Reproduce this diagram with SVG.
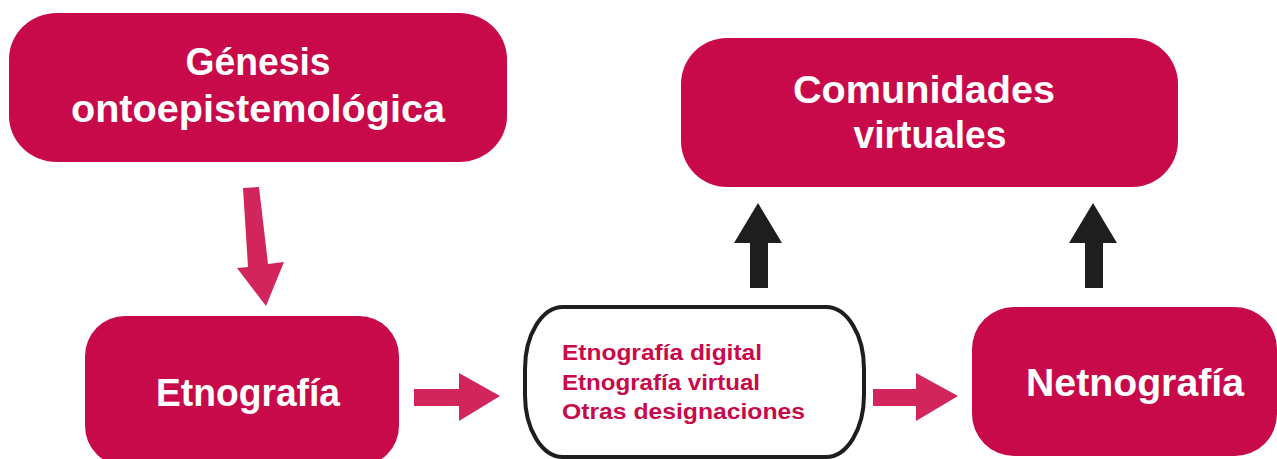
<svg xmlns="http://www.w3.org/2000/svg" width="1277" height="459" viewBox="0 0 1277 459">
<style>
.box{fill:#C8094A}
.big{font-family:"Liberation Sans",Arial,sans-serif;font-weight:bold;font-size:38px;fill:#FFFFFF;text-anchor:middle}
.small{font-family:"Liberation Sans",Arial,sans-serif;font-weight:bold;font-size:22px;fill:#C8094A}
.pink{fill:#D2255C}
.dark{fill:#1E1E1E}
</style>
<rect width="1277" height="459" fill="#FFFFFF"/>
<g id="genesis">
<rect class="box" x="9" y="13" width="498" height="149" rx="48" ry="46"/>
<text class="big" x="258" y="75" textLength="145" lengthAdjust="spacingAndGlyphs">Génesis</text>
<text class="big" x="258" y="122" textLength="374" lengthAdjust="spacingAndGlyphs">ontoepistemológica</text>
</g>
<g id="etnografia">
<rect class="box" x="85" y="316" width="314" height="150" rx="40" ry="40"/>
<text class="big" x="248" y="406" textLength="184" lengthAdjust="spacingAndGlyphs">Etnografía</text>
</g>
<g id="designaciones">
<rect x="525" y="307" width="339" height="150" rx="38" ry="62" fill="#FFFFFF" stroke="#1E1E1E" stroke-width="4"/>
<text class="small" x="562" y="360" textLength="200" lengthAdjust="spacingAndGlyphs">Etnografía digital</text>
<text class="small" x="562" y="390" textLength="198" lengthAdjust="spacingAndGlyphs">Etnografía virtual</text>
<text class="small" x="562" y="419" textLength="243" lengthAdjust="spacingAndGlyphs">Otras designaciones</text>
</g>
<g id="comunidades">
<rect class="box" x="681" y="38" width="497" height="149" rx="46" ry="46"/>
<text class="big" x="924" y="103" textLength="262" lengthAdjust="spacingAndGlyphs">Comunidades</text>
<text class="big" x="930" y="148" textLength="153" lengthAdjust="spacingAndGlyphs">virtuales</text>
</g>
<g id="netnografia">
<rect class="box" x="972" y="307" width="305" height="149" rx="42" ry="42"/>
<text class="big" x="1135" y="396" textLength="218" lengthAdjust="spacingAndGlyphs">Netnografía</text>
</g>
<g id="connectors">
<polygon class="pink" points="243,188 259,187 268,264 284,262 266,306 237,268 248,267"/>
<polygon class="pink" points="414,389 459,389 459,373 500,396 459,421 459,406 414,406"/>
<polygon class="pink" points="873,389 916,389 916,373 958,396 916,421 916,406 873,406"/>
<polygon class="dark" points="758,203 782,243 768,243 768,288 750,288 750,243 734,243"/>
<polygon class="dark" points="1093,203 1117,243 1103,243 1103,288 1085,288 1085,243 1069,243"/>
</g>
</svg>
